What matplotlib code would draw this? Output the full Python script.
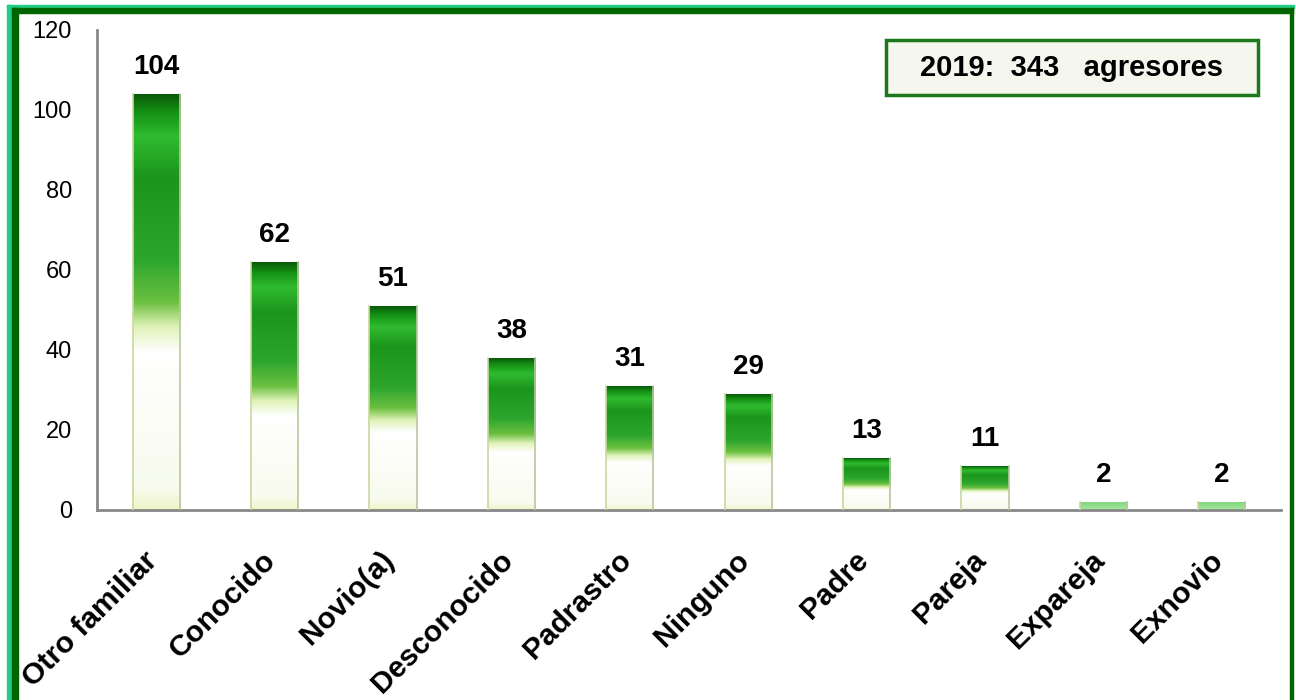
import numpy as np
import matplotlib as mpl
mpl.use('Agg')
import matplotlib.pyplot as plt
from matplotlib.patches import Rectangle
from matplotlib.colors import LinearSegmentedColormap
from matplotlib.transforms import ScaledTranslation

mpl.rcParams['font.family'] = ['Liberation Sans', 'DejaVu Sans']

categorias = ['Otro familiar', 'Conocido', 'Novio(a)', 'Desconocido', 'Padrastro',
              'Ninguno', 'Padre', 'Pareja', 'Expareja', 'Exnovio']
valores = [104, 62, 51, 38, 31, 29, 13, 11, 2, 2]
leyenda = '2019:  343   agresores'

W, H = 1296, 700
fig = plt.figure(figsize=(W / 100, H / 100), dpi=100)
fig.patch.set_facecolor('white')

# rectangulo en pixeles (origen arriba a la izquierda)
def px_rect(x0, y0, x1, y1, **kw):
    r = Rectangle((x0 / W, 1 - y1 / H), (x1 - x0) / W, (y1 - y0) / H,
                  transform=fig.transFigure, **kw)
    fig.patches.append(r)
    return r

# marco verde de la figura (claro por fuera, oscuro por dentro)
px_rect(7, 5, 1294, 8, color='#22cc88', zorder=0)
px_rect(7, 5, 12, H, color='#22cc88', zorder=0)
px_rect(12, 8, 1293, 13, color='#006400', zorder=0)
px_rect(12, 8, 18, H, color='#006400', zorder=0)
px_rect(1290, 8, 1293, H, color='#006400', zorder=0)

ax = fig.add_axes([97 / W, 1 - 510 / H, (1281 - 97) / W, (510 - 30) / H])
ax.set_xlim(-0.5, len(categorias) - 0.5)
ax.set_ylim(0, 120)
ax.set_yticks(range(0, 121, 20))
ax.tick_params(axis='y', length=0, labelsize=17, pad=18)
ax.tick_params(axis='x', length=0, pad=26)
for s in ['top', 'right']:
    ax.spines[s].set_visible(False)
for s in ['left', 'bottom']:
    ax.spines[s].set_color('#888888')
    ax.spines[s].set_linewidth(2)

# degradado de las barras: verde arriba, blanco abajo
cmap = LinearSegmentedColormap.from_list('barra', [
    (0.00, '#eef5c8'),
    (0.05, '#f8fbee'),
    (0.38, '#ffffff'),
    (0.44, '#e0f2b8'),
    (0.50, '#6cc040'),
    (0.60, '#2ea62e'),
    (0.80, '#1c951c'),
    (0.90, '#30bb30'),
    (0.96, '#149014'),
    (1.00, '#0a5a0a'),
])
grad = np.linspace(0, 1, 256).reshape(-1, 1)
cmap_bajo = LinearSegmentedColormap.from_list('bajo', ['#a8e8a0', '#7fd87a'])

ancho = 0.4
bars = ax.bar(range(len(categorias)), valores, width=ancho, color='none',
              edgecolor='none', zorder=2)
for b, v in zip(bars, valores):
    x0, w, h = b.get_x(), b.get_width(), b.get_height()
    cm = cmap if v > 5 else cmap_bajo
    im = ax.imshow(grad, cmap=cm, origin='lower', aspect='auto',
                   extent=[x0, x0 + w, 0, h], zorder=2, interpolation='bilinear')
    im.set_clip_path(b)
    # bordes laterales claros
    ax.plot([x0, x0], [0, h], color='#c8d8a0', lw=1.2, zorder=3)
    ax.plot([x0 + w, x0 + w], [0, h], color='#b8c8a0', lw=1.2, zorder=3)
    ax.text(b.get_x() + w / 2, h + 3.5, str(v), ha='center', va='bottom',
            fontsize=20, fontweight='bold', zorder=4)

ax.set_xticks(range(len(categorias)))
ax.set_xticklabels(categorias, rotation=45, ha='right', rotation_mode='anchor',
                   fontsize=21.5, fontweight='bold')
desplaza = ScaledTranslation(-0.13, 0, fig.dpi_scale_trans)
for lab in ax.get_xticklabels():
    lab.set_transform(lab.get_transform() + desplaza)

# recuadro con el total
px_rect(886, 40, 1258, 95, facecolor='#f5f6ee', edgecolor='#1a7a1a',
        linewidth=2.5, zorder=5)
fig.text(1072 / W, 1 - 68 / H, leyenda, ha='center', va='center',
         fontsize=21, fontweight='bold', zorder=6)

fig.savefig('out.png', dpi=100)
